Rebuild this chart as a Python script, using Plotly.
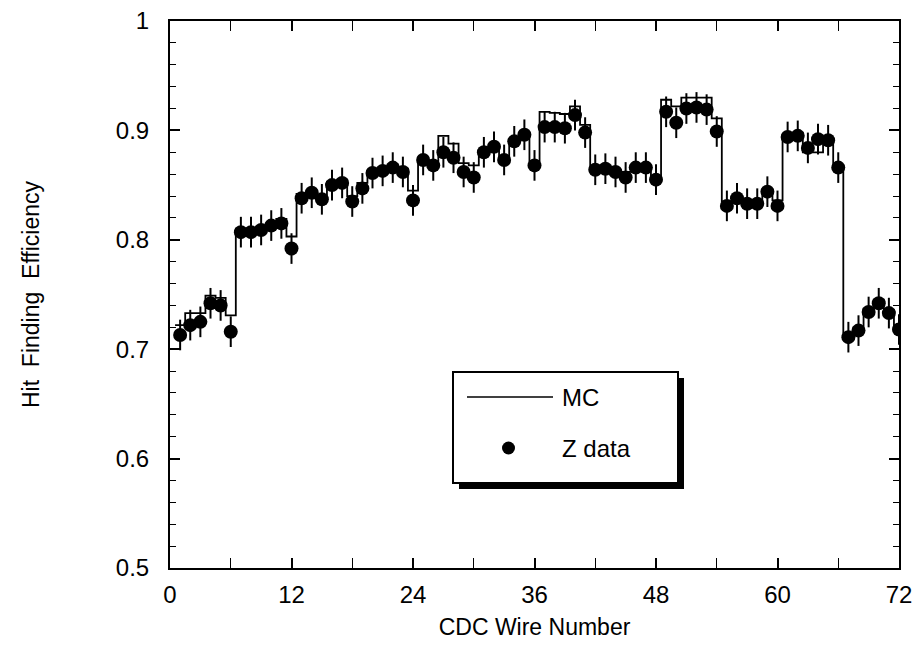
import numpy as np
import plotly.graph_objects as go

wire = list(range(1, 73))
z_data = [0.713, 0.722, 0.725, 0.742, 0.740, 0.716,
          0.807, 0.807, 0.809, 0.813, 0.815, 0.792,
          0.838, 0.843, 0.837, 0.850, 0.852, 0.835, 0.847, 0.861, 0.863, 0.866, 0.862, 0.836,
          0.873, 0.868, 0.880, 0.875, 0.862, 0.857,
          0.880, 0.885, 0.873, 0.890, 0.896, 0.868,
          0.903, 0.903, 0.902, 0.914, 0.898, 0.864, 0.865, 0.862, 0.857, 0.866, 0.866, 0.855,
          0.917, 0.907, 0.920, 0.921, 0.919, 0.899,
          0.831, 0.838, 0.833, 0.833, 0.844, 0.831,
          0.894, 0.895, 0.884, 0.892, 0.891, 0.866,
          0.711, 0.717, 0.734, 0.742, 0.733, 0.718]
z_err = [0.014] * 72
mc = [0.722, 0.733, 0.733, 0.749, 0.747, 0.731,
      0.810, 0.810, 0.812, 0.815, 0.819, 0.803,
      0.842, 0.845, 0.840, 0.853, 0.855, 0.840, 0.852, 0.863, 0.866, 0.869, 0.865, 0.845,
      0.875, 0.872, 0.895, 0.888, 0.870, 0.868,
      0.882, 0.887, 0.876, 0.892, 0.897, 0.872,
      0.917, 0.916, 0.915, 0.922, 0.905, 0.867, 0.868, 0.864, 0.862, 0.868, 0.868, 0.858,
      0.928, 0.922, 0.930, 0.930, 0.930, 0.911,
      0.835, 0.840, 0.836, 0.836, 0.846, 0.836,
      0.896, 0.898, 0.880, 0.880, 0.892, 0.868,
      0.714, 0.720, 0.737, 0.745, 0.736, 0.721]
x_ticks = [0, 12, 24, 36, 48, 60, 72]
y_ticks = [0.5, 0.6, 0.7, 0.8, 0.9, 1.0]
y_tick_text = ["0.5", "0.6", "0.7", "0.8", "0.9", "1"]

# histogram edges for MC step line
edges = np.array(wire, dtype=float) - 0.5
edges = np.append(edges, edges[-1] + 1)
mc_step = list(mc) + [mc[-1]]

FONT = "Liberation Sans, Arial, Helvetica, sans-serif"

fig = go.Figure()
fig.add_trace(go.Scatter(x=edges, y=mc_step, mode="lines", line_shape="hv",
                         line=dict(color="black", width=1.8), name="MC", showlegend=False))
fig.add_trace(go.Scatter(x=wire, y=z_data, mode="markers",
                         marker=dict(color="black", size=14),
                         error_y=dict(type="data", array=z_err, color="black", thickness=2, width=0),
                         name="Z data", showlegend=False))

L, R, T, B = 170, 899, 21, 568
W, H = 921, 659
def px(x):
    return (x - L) / (R - L)
def py(y):
    return (B - y) / (B - T)

shapes = [
    # legend shadow
    dict(type="rect", xref="paper", yref="paper", x0=px(459), x1=px(684), y0=py(489), y1=py(378),
         fillcolor="black", line=dict(width=0), layer="above"),
    # legend box
    dict(type="rect", xref="paper", yref="paper", x0=px(453), x1=px(678), y0=py(483), y1=py(372),
         fillcolor="white", line=dict(color="black", width=2), layer="above"),
    dict(type="line", xref="paper", yref="paper", x0=px(467), x1=px(553), y0=py(397), y1=py(397),
         line=dict(color="black", width=1.5), layer="above"),
    dict(type="circle", xref="paper", yref="paper", x0=px(502), x1=px(515), y0=py(454.5), y1=py(441.5),
         fillcolor="black", line=dict(width=0), layer="above"),
]
annotations = [
    dict(text="MC", xref="paper", yref="paper", x=px(560), y=py(397), xanchor="left", yanchor="middle",
         showarrow=False, font=dict(family=FONT, size=24, color="black")),
    dict(text="Z data", xref="paper", yref="paper", x=px(560), y=py(448), xanchor="left", yanchor="middle",
         showarrow=False, font=dict(family=FONT, size=24, color="black")),
]

fig.update_layout(
    width=W, height=H,
    margin=dict(l=L, r=W - R, t=T, b=H - B, autoexpand=False),
    paper_bgcolor="white", plot_bgcolor="white",
    font=dict(family=FONT, size=22, color="black"),
    shapes=shapes, annotations=annotations,
    showlegend=False,
)
fig.update_xaxes(range=[0, 72], tickvals=x_ticks, ticks="inside", ticklen=10, tickwidth=1.5,
                 tickcolor="black", showline=True, linecolor="black", linewidth=2, mirror="ticks",
                 showgrid=False, zeroline=False, ticklabelstandoff=4, automargin=False,
                 minor=dict(dtick=6, tick0=0, ticks="inside", ticklen=10, tickcolor="black", tickwidth=1.2),
                 title=dict(text="CDC Wire Number", font=dict(size=23), standoff=12),
                 tickfont=dict(size=24))
fig.update_yaxes(range=[0.5, 1.0], tickvals=y_ticks, ticktext=y_tick_text, ticks="inside", ticklen=10,
                 tickwidth=1.5, tickcolor="black", showline=True, linecolor="black", linewidth=2,
                 mirror="ticks", showgrid=False, zeroline=False, ticklabelstandoff=14, automargin=False,
                 minor=dict(dtick=0.02, tick0=0.5, ticks="inside", ticklen=6, tickcolor="black", tickwidth=1.2),
                 title=dict(text="Hit\u00a0 Finding\u00a0 Efficiency", font=dict(size=23), standoff=70),
                 tickfont=dict(size=24))

fig.write_html("out.html", config={"displayModeBar": False},
               post_script="document.body.style.margin='0';document.body.style.overflow='hidden';")
